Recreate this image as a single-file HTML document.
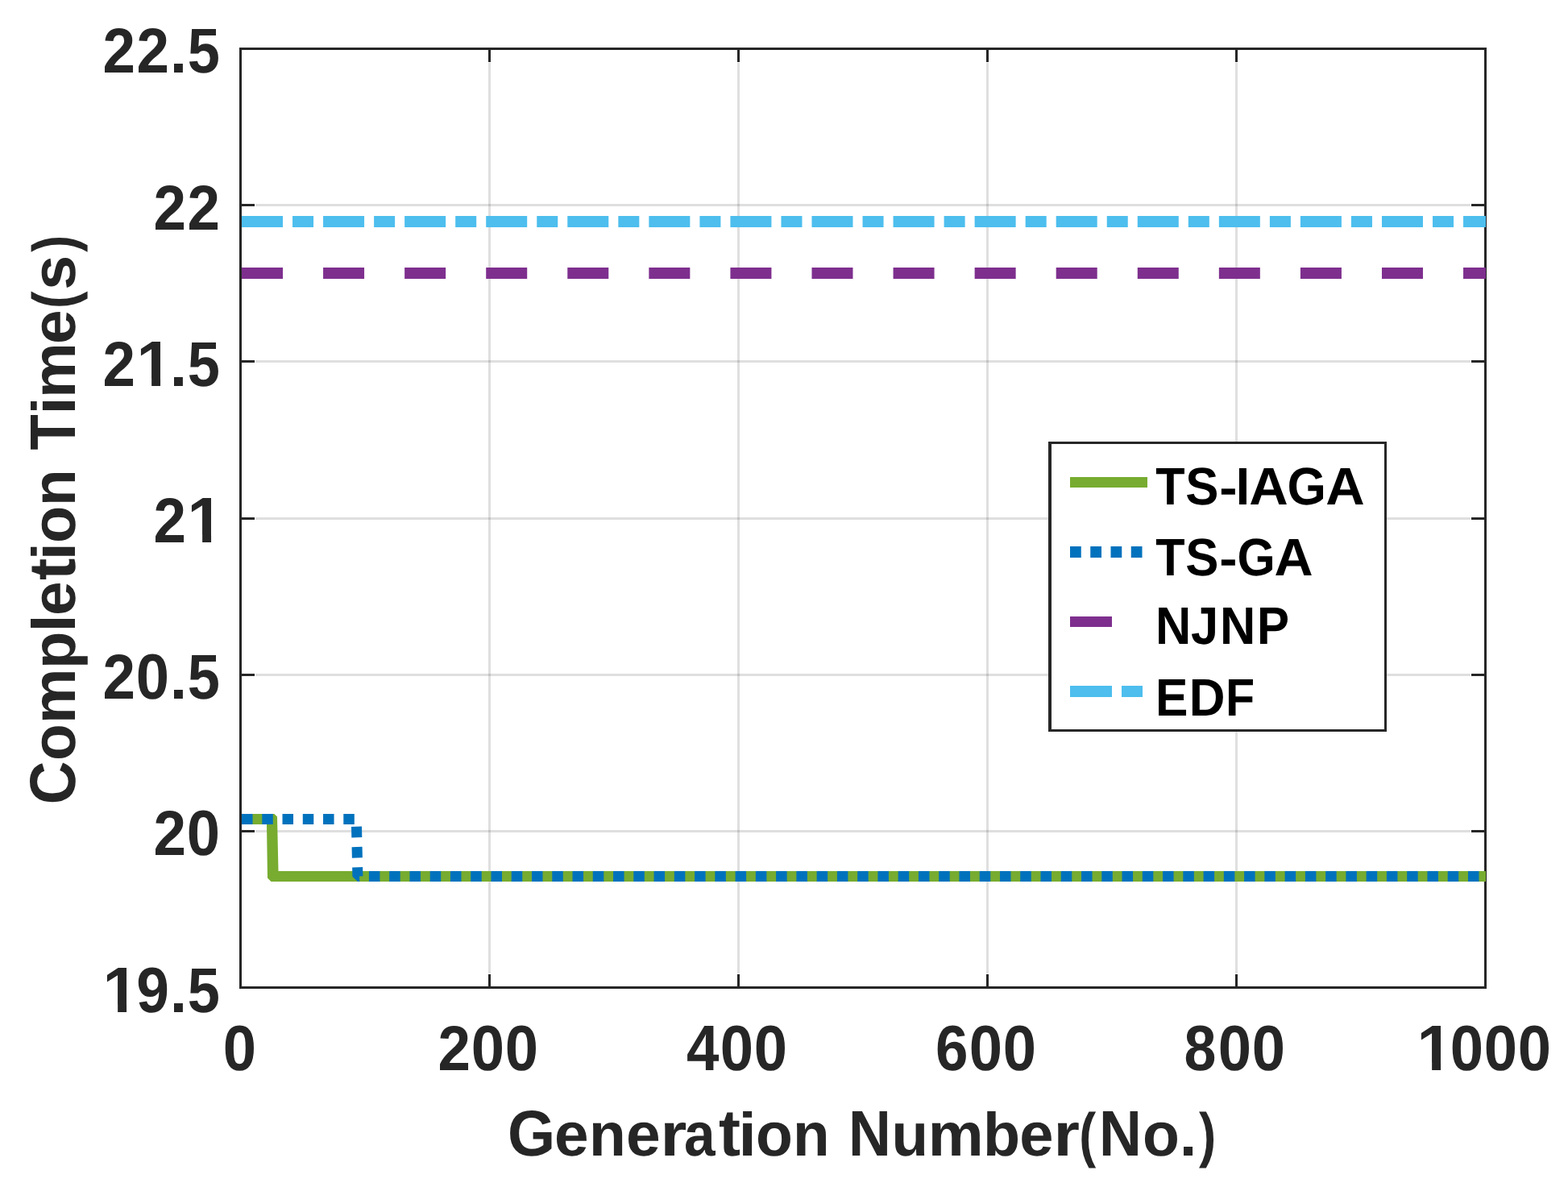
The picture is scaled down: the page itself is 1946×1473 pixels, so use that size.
<!DOCTYPE html>
<html lang="en">
<head>
<meta charset="utf-8">
<title>Completion Time vs Generation Number</title>
<style>
html,body{margin:0;padding:0;background:#fff;}
body{width:1946px;height:1473px;overflow:hidden;}
svg{display:block;}
text{font-family:"Liberation Sans",Arial,Helvetica,sans-serif;font-weight:bold;font-kerning:none;text-rendering:geometricPrecision;}
.tk{font-size:75.75px;fill:#262626;}
.lg{font-size:62.5px;fill:#000;}
</style>
</head>
<body>
<svg width="1946" height="1473" viewBox="0 0 1946 1473">
<rect x="0" y="0" width="1946" height="1473" fill="#ffffff"/>
<g stroke="#262626" stroke-opacity="0.15" stroke-width="3" fill="none">
<line x1="607.5" y1="77.8" x2="607.5" y2="1208.2"/>
<line x1="916.5" y1="77.8" x2="916.5" y2="1208.2"/>
<line x1="1225.5" y1="77.8" x2="1225.5" y2="1208.2"/>
<line x1="1534.5" y1="77.8" x2="1534.5" y2="1208.2"/>
<line x1="316.8" y1="254.5" x2="1825.2" y2="254.5"/>
<line x1="316.8" y1="448.5" x2="1825.2" y2="448.5"/>
<line x1="316.8" y1="643.5" x2="1825.2" y2="643.5"/>
<line x1="316.8" y1="837.5" x2="1825.2" y2="837.5"/>
<line x1="316.8" y1="1031.5" x2="1825.2" y2="1031.5"/>
</g>
<g stroke="#262626" stroke-width="3" fill="none">
<rect x="298.5" y="60.5" width="1545.0" height="1165.0"/>
<line x1="607.5" y1="1225.5" x2="607.5" y2="1209.0"/>
<line x1="607.5" y1="60.5" x2="607.5" y2="77.0"/>
<line x1="916.5" y1="1225.5" x2="916.5" y2="1209.0"/>
<line x1="916.5" y1="60.5" x2="916.5" y2="77.0"/>
<line x1="1225.5" y1="1225.5" x2="1225.5" y2="1209.0"/>
<line x1="1225.5" y1="60.5" x2="1225.5" y2="77.0"/>
<line x1="1534.5" y1="1225.5" x2="1534.5" y2="1209.0"/>
<line x1="1534.5" y1="60.5" x2="1534.5" y2="77.0"/>
<line x1="298.5" y1="254.5" x2="316.0" y2="254.5"/>
<line x1="1843.5" y1="254.5" x2="1826.0" y2="254.5"/>
<line x1="298.5" y1="448.5" x2="316.0" y2="448.5"/>
<line x1="1843.5" y1="448.5" x2="1826.0" y2="448.5"/>
<line x1="298.5" y1="643.5" x2="316.0" y2="643.5"/>
<line x1="1843.5" y1="643.5" x2="1826.0" y2="643.5"/>
<line x1="298.5" y1="837.5" x2="316.0" y2="837.5"/>
<line x1="1843.5" y1="837.5" x2="1826.0" y2="837.5"/>
<line x1="298.5" y1="1031.5" x2="316.0" y2="1031.5"/>
<line x1="1843.5" y1="1031.5" x2="1826.0" y2="1031.5"/>
</g>
<polygon points="300,1010 340.4,1010 344,1013.6 345.5,1081 1844,1081 1844,1094 336.4,1094 332,1089.6 331,1023 300,1023" fill="#77AC30"/>
<g fill="none" stroke-linejoin="bevel">
<polyline points="300,1016.5 442.3,1016.5 443.9,1087.5 1844,1087.5" stroke="#0072BD" stroke-width="13" stroke-dasharray="13.5 11.76"/>
<line x1="300" y1="339" x2="1844" y2="339" stroke="#7E2F8E" stroke-width="14" stroke-dasharray="51 50.07"/>
<line x1="300" y1="275" x2="1844" y2="275" stroke="#4DBEEE" stroke-width="14" stroke-dasharray="51 12.05 26 12.02"/>
</g>
<rect x="1301" y="548" width="420" height="360" fill="#262626"/>
<rect x="1305" y="551" width="413" height="354" fill="#ffffff"/>
<g fill="none">
<line x1="1328" y1="598.5" x2="1424" y2="598.5" stroke="#77AC30" stroke-width="13"/>
<line x1="1328" y1="685" x2="1424" y2="685" stroke="#0072BD" stroke-width="14" stroke-dasharray="13.75 11.5"/>
<line x1="1328" y1="771.5" x2="1424" y2="771.5" stroke="#7E2F8E" stroke-width="13" stroke-dasharray="52 50"/>
<line x1="1328" y1="858" x2="1424" y2="858" stroke="#4DBEEE" stroke-width="14" stroke-dasharray="52 12 26 12"/>
</g>
<text class="lg" y="626"><tspan x="1434.33" font-size="65.41" textLength="36.31" lengthAdjust="spacingAndGlyphs">T</tspan><tspan x="1471.22" font-size="65.41" textLength="41.19" lengthAdjust="spacingAndGlyphs">S</tspan><tspan x="1513.38" font-size="61.5" textLength="22.30" lengthAdjust="spacingAndGlyphs">-</tspan><tspan x="1533.82" font-size="65.41" textLength="17.36" lengthAdjust="spacingAndGlyphs">I</tspan><tspan x="1550.33" font-size="65.41" textLength="48.44" lengthAdjust="spacingAndGlyphs">A</tspan><tspan x="1597.45" font-size="65.41" textLength="48.41" lengthAdjust="spacingAndGlyphs">G</tspan><tspan x="1645.33" font-size="65.41" textLength="48.44" lengthAdjust="spacingAndGlyphs">A</tspan></text>
<text class="lg" y="714"><tspan x="1434.33" font-size="65.41" textLength="36.31" lengthAdjust="spacingAndGlyphs">T</tspan><tspan x="1471.22" font-size="65.41" textLength="41.19" lengthAdjust="spacingAndGlyphs">S</tspan><tspan x="1513.38" font-size="61.5" textLength="22.30" lengthAdjust="spacingAndGlyphs">-</tspan><tspan x="1535.51" font-size="65.41" textLength="47.26" lengthAdjust="spacingAndGlyphs">G</tspan><tspan x="1581.64" font-size="65.41" textLength="48.12" lengthAdjust="spacingAndGlyphs">A</tspan></text>
<text class="lg" y="799"><tspan x="1433.90" font-size="65.41" textLength="44.22" lengthAdjust="spacingAndGlyphs">N</tspan><tspan x="1478.07" font-size="65.41" textLength="34.12" lengthAdjust="spacingAndGlyphs">J</tspan><tspan x="1513.90" font-size="65.41" textLength="44.22" lengthAdjust="spacingAndGlyphs">N</tspan><tspan x="1559.98" font-size="65.41" textLength="40.07" lengthAdjust="spacingAndGlyphs">P</tspan></text>
<text class="lg" y="888"><tspan x="1433.95" font-size="65.41" textLength="40.42" lengthAdjust="spacingAndGlyphs">E</tspan><tspan x="1475.86" font-size="65.41" textLength="44.75" lengthAdjust="spacingAndGlyphs">D</tspan><tspan x="1521.04" font-size="65.41" textLength="36.12" lengthAdjust="spacingAndGlyphs">F</tspan></text>
<text class="tk" y="90"><tspan x="127.48" font-size="78.8" textLength="40.43" lengthAdjust="spacingAndGlyphs">2</tspan><tspan x="169.48" font-size="78.8" textLength="40.43" lengthAdjust="spacingAndGlyphs">2</tspan><tspan x="210.86" font-size="74.0" textLength="21.46" lengthAdjust="spacingAndGlyphs">.</tspan><tspan x="232.83" font-size="78.5" textLength="40.18" lengthAdjust="spacingAndGlyphs">5</tspan></text>
<text class="tk" y="285"><tspan x="190.48" font-size="78.8" textLength="40.43" lengthAdjust="spacingAndGlyphs">2</tspan><tspan x="232.48" font-size="78.8" textLength="40.43" lengthAdjust="spacingAndGlyphs">2</tspan></text>
<text class="tk" y="479"><tspan x="127.48" font-size="78.8" textLength="40.43" lengthAdjust="spacingAndGlyphs">2</tspan><tspan x="169.56" font-size="79.94" textLength="44.25" lengthAdjust="spacingAndGlyphs">1</tspan><tspan x="210.86" font-size="74.0" textLength="21.46" lengthAdjust="spacingAndGlyphs">.</tspan><tspan x="232.83" font-size="78.5" textLength="40.18" lengthAdjust="spacingAndGlyphs">5</tspan></text>
<text class="tk" y="673"><tspan x="190.48" font-size="78.8" textLength="40.43" lengthAdjust="spacingAndGlyphs">2</tspan><tspan x="232.56" font-size="79.94" textLength="44.25" lengthAdjust="spacingAndGlyphs">1</tspan></text>
<text class="tk" y="867"><tspan x="127.48" font-size="78.8" textLength="40.43" lengthAdjust="spacingAndGlyphs">2</tspan><tspan x="168.86" font-size="79.4" textLength="41.28" lengthAdjust="spacingAndGlyphs">0</tspan><tspan x="210.86" font-size="74.0" textLength="21.46" lengthAdjust="spacingAndGlyphs">.</tspan><tspan x="232.83" font-size="78.5" textLength="40.18" lengthAdjust="spacingAndGlyphs">5</tspan></text>
<text class="tk" y="1061"><tspan x="190.48" font-size="78.8" textLength="40.43" lengthAdjust="spacingAndGlyphs">2</tspan><tspan x="231.86" font-size="79.4" textLength="41.28" lengthAdjust="spacingAndGlyphs">0</tspan></text>
<text class="tk" y="1256"><tspan x="127.56" font-size="79.94" textLength="44.25" lengthAdjust="spacingAndGlyphs">1</tspan><tspan x="169.17" font-size="79.4" textLength="40.65" lengthAdjust="spacingAndGlyphs">9</tspan><tspan x="210.86" font-size="74.0" textLength="21.46" lengthAdjust="spacingAndGlyphs">.</tspan><tspan x="232.83" font-size="78.5" textLength="40.18" lengthAdjust="spacingAndGlyphs">5</tspan></text>
<text class="tk" y="1328"><tspan x="276.86" font-size="79.4" textLength="41.28" lengthAdjust="spacingAndGlyphs">0</tspan></text>
<text class="tk" y="1328"><tspan x="543.48" font-size="78.8" textLength="40.43" lengthAdjust="spacingAndGlyphs">2</tspan><tspan x="584.86" font-size="79.4" textLength="41.28" lengthAdjust="spacingAndGlyphs">0</tspan><tspan x="626.86" font-size="79.4" textLength="41.28" lengthAdjust="spacingAndGlyphs">0</tspan></text>
<text class="tk" y="1328"><tspan x="852.00" font-size="79.94" textLength="40.49" lengthAdjust="spacingAndGlyphs">4</tspan><tspan x="893.86" font-size="79.4" textLength="41.28" lengthAdjust="spacingAndGlyphs">0</tspan><tspan x="935.86" font-size="79.4" textLength="41.28" lengthAdjust="spacingAndGlyphs">0</tspan></text>
<text class="tk" y="1328"><tspan x="1160.93" font-size="79.4" textLength="40.50" lengthAdjust="spacingAndGlyphs">6</tspan><tspan x="1202.86" font-size="79.4" textLength="41.28" lengthAdjust="spacingAndGlyphs">0</tspan><tspan x="1244.86" font-size="79.4" textLength="41.28" lengthAdjust="spacingAndGlyphs">0</tspan></text>
<text class="tk" y="1328"><tspan x="1469.62" font-size="79.4" textLength="39.88" lengthAdjust="spacingAndGlyphs">8</tspan><tspan x="1511.86" font-size="79.4" textLength="41.28" lengthAdjust="spacingAndGlyphs">0</tspan><tspan x="1553.86" font-size="79.4" textLength="41.28" lengthAdjust="spacingAndGlyphs">0</tspan></text>
<text class="tk" y="1328"><tspan x="1758.56" font-size="79.94" textLength="44.25" lengthAdjust="spacingAndGlyphs">1</tspan><tspan x="1799.86" font-size="79.4" textLength="41.28" lengthAdjust="spacingAndGlyphs">0</tspan><tspan x="1841.86" font-size="79.4" textLength="41.28" lengthAdjust="spacingAndGlyphs">0</tspan><tspan x="1883.86" font-size="79.4" textLength="41.28" lengthAdjust="spacingAndGlyphs">0</tspan></text>
<rect x="173.07" y="469.84" width="15.06" height="10.66" fill="#ffffff"/>
<rect x="199.05" y="469.84" width="14.05" height="10.66" fill="#ffffff"/>
<rect x="236.07" y="663.84" width="15.06" height="10.66" fill="#ffffff"/>
<rect x="262.05" y="663.84" width="14.05" height="10.66" fill="#ffffff"/>
<rect x="131.07" y="1246.84" width="15.06" height="10.66" fill="#ffffff"/>
<rect x="157.05" y="1246.84" width="14.05" height="10.66" fill="#ffffff"/>
<rect x="1762.07" y="1318.84" width="15.06" height="10.66" fill="#ffffff"/>
<rect x="1788.05" y="1318.84" width="14.05" height="10.66" fill="#ffffff"/>
<text class="tk" y="1434"><tspan x="629.88" font-size="80.2" textLength="59.13" lengthAdjust="spacingAndGlyphs">G</tspan><tspan x="688.01" font-size="76.8" textLength="42.61" lengthAdjust="spacingAndGlyphs">e</tspan><tspan x="731.06" font-size="76.3" textLength="45.79" lengthAdjust="spacingAndGlyphs">n</tspan><tspan x="776.90" font-size="76.8" textLength="42.73" lengthAdjust="spacingAndGlyphs">e</tspan><tspan x="819.44" font-size="76.3" textLength="32.84" lengthAdjust="spacingAndGlyphs">r</tspan><tspan x="848.97" font-size="76.8" textLength="38.59" lengthAdjust="spacingAndGlyphs">a</tspan><tspan x="892.01" font-size="82.0" textLength="26.98" lengthAdjust="spacingAndGlyphs">t</tspan><tspan x="916.40" font-size="75.9" textLength="22.27" lengthAdjust="spacingAndGlyphs">i</tspan><tspan x="938.07" font-size="76.8" textLength="45.87" lengthAdjust="spacingAndGlyphs">o</tspan><tspan x="984.09" font-size="76.3" textLength="45.54" lengthAdjust="spacingAndGlyphs">n</tspan> <tspan x="1053.11" font-size="79.94" textLength="52.82" lengthAdjust="spacingAndGlyphs">N</tspan><tspan x="1106.38" font-size="75.3" textLength="45.54" lengthAdjust="spacingAndGlyphs">u</tspan><tspan x="1151.89" font-size="76.3" textLength="68.92" lengthAdjust="spacingAndGlyphs">m</tspan><tspan x="1220.03" font-size="76.0" textLength="46.06" lengthAdjust="spacingAndGlyphs">b</tspan><tspan x="1265.33" font-size="76.8" textLength="42.27" lengthAdjust="spacingAndGlyphs">e</tspan><tspan x="1307.50" font-size="76.3" textLength="32.46" lengthAdjust="spacingAndGlyphs">r</tspan><tspan x="1339.18" font-size="75.1" textLength="20.88" lengthAdjust="spacingAndGlyphs">(</tspan><tspan x="1364.11" font-size="79.94" textLength="52.82" lengthAdjust="spacingAndGlyphs">N</tspan><tspan x="1418.07" font-size="76.8" textLength="45.87" lengthAdjust="spacingAndGlyphs">o</tspan><tspan x="1463.71" font-size="73.9" textLength="21.66" lengthAdjust="spacingAndGlyphs">.</tspan><tspan x="1487.94" font-size="75.1" textLength="21.24" lengthAdjust="spacingAndGlyphs">)</tspan></text>
<text class="tk" transform="translate(93,1000) rotate(-90)" y="0"><tspan x="1.65" font-size="80.2" textLength="53.68" lengthAdjust="spacingAndGlyphs">C</tspan><tspan x="56.08" font-size="76.8" textLength="45.64" lengthAdjust="spacingAndGlyphs">o</tspan><tspan x="101.89" font-size="76.3" textLength="68.92" lengthAdjust="spacingAndGlyphs">m</tspan><tspan x="169.90" font-size="76.0" textLength="46.31" lengthAdjust="spacingAndGlyphs">p</tspan><tspan x="215.45" font-size="75.9" textLength="22.07" lengthAdjust="spacingAndGlyphs">l</tspan><tspan x="236.01" font-size="76.8" textLength="42.61" lengthAdjust="spacingAndGlyphs">e</tspan><tspan x="280.00" font-size="82.0" textLength="27.19" lengthAdjust="spacingAndGlyphs">t</tspan><tspan x="304.65" font-size="75.9" textLength="22.07" lengthAdjust="spacingAndGlyphs">i</tspan><tspan x="326.05" font-size="76.8" textLength="46.10" lengthAdjust="spacingAndGlyphs">o</tspan><tspan x="372.09" font-size="76.3" textLength="45.54" lengthAdjust="spacingAndGlyphs">n</tspan> <tspan x="441.38" font-size="79.94" textLength="44.40" lengthAdjust="spacingAndGlyphs">T</tspan><tspan x="485.55" font-size="75.9" textLength="22.07" lengthAdjust="spacingAndGlyphs">i</tspan><tspan x="505.99" font-size="76.3" textLength="68.92" lengthAdjust="spacingAndGlyphs">m</tspan><tspan x="573.02" font-size="76.8" textLength="42.50" lengthAdjust="spacingAndGlyphs">e</tspan><tspan x="616.89" font-size="75.1" textLength="21.47" lengthAdjust="spacingAndGlyphs">(</tspan><tspan x="640.28" font-size="76.8" textLength="42.99" lengthAdjust="spacingAndGlyphs">s</tspan><tspan x="687.14" font-size="75.1" textLength="20.77" lengthAdjust="spacingAndGlyphs">)</tspan></text>
</svg>
</body>
</html>
